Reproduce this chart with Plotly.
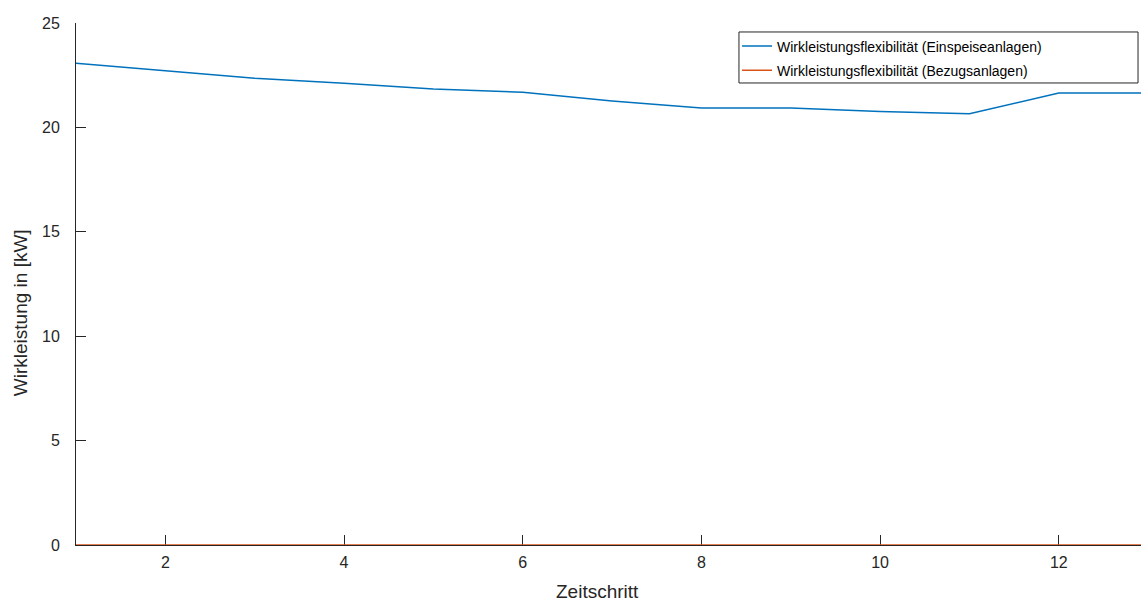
import plotly.graph_objects as go

# Zeitschritte und Wirkleistungsflexibilität in kW
zeitschritt = [1, 2, 3, 4, 5, 6, 7, 8, 9, 10, 11, 12, 13]
einspeise_kw = [23.07, 22.7, 22.35, 22.12, 21.84, 21.68, 21.26, 20.93, 20.93, 20.76, 20.65, 21.65, 21.65]
bezug_kw = [0, 0, 0, 0, 0, 0, 0, 0, 0, 0, 0, 0, 0]

x_ticks = [2, 4, 6, 8, 10, 12]
y_ticks = [0, 5, 10, 15, 20, 25]

FONT = "Liberation Sans, Arial, Helvetica, sans-serif"
TXT = "#262626"

fig = go.Figure()
fig.add_trace(go.Scatter(
    x=zeitschritt, y=einspeise_kw, mode="lines",
    name="Wirkleistungsflexibilität (Einspeiseanlagen)", legendgroup="a",
    line=dict(color="#0072BD", width=1.5),
))
fig.add_trace(go.Scatter(
    x=zeitschritt, y=bezug_kw, mode="lines",
    name="Wirkleistungsflexibilität (Bezugsanlagen)", legendgroup="b",
    line=dict(color="#D95319", width=1.5),
))

fig.update_layout(
    width=1141, height=608,
    margin=dict(l=76, r=0, t=23, b=63),
    paper_bgcolor="white", plot_bgcolor="white",
    font=dict(family=FONT, size=16, color=TXT),
    showlegend=True,
    legend=dict(
        x=0.6207, y=0.9856, xanchor="left", yanchor="top",
        bgcolor="rgba(0,0,0,0)", borderwidth=0,
        font=dict(size=14, color="black"),
        itemwidth=30, tracegroupgap=3,
    ),
    # legend frame
    shapes=[dict(
        type="rect", xref="paper", yref="paper",
        x0=0.6225, x1=0.9972, y0=0.8851, y1=0.9828,
        line=dict(color=TXT, width=1), fillcolor="white", layer="above",
    )],
    xaxis=dict(
        range=[1, 12.92], tickvals=x_ticks, ticks="inside", ticklen=10,
        tickcolor=TXT, showline=True, linecolor=TXT, linewidth=1,
        showgrid=False, zeroline=False, layer="below traces",
        tickfont=dict(size=16, color=TXT), ticklabelstandoff=3,
    ),
    yaxis=dict(
        range=[0, 25], tickvals=y_ticks, ticks="inside", ticklen=10,
        tickcolor=TXT, showline=True, linecolor=TXT, linewidth=1,
        showgrid=False, zeroline=False,
        tickfont=dict(size=16, color=TXT), ticklabelstandoff=12,
    ),
    annotations=[
        dict(
            text="Zeitschritt", xref="paper", yref="paper", x=0.49, y=-0.09,
            xanchor="center", yanchor="middle", showarrow=False,
            font=dict(size=19, color=TXT),
        ),
        dict(
            text="Wirkleistung in [kW]", xref="paper", yref="paper",
            x=-0.0526, y=0.446, textangle=-90,
            xanchor="center", yanchor="middle", showarrow=False,
            font=dict(size=19, color=TXT),
        ),
    ],
)

fig.write_html("out.html")
